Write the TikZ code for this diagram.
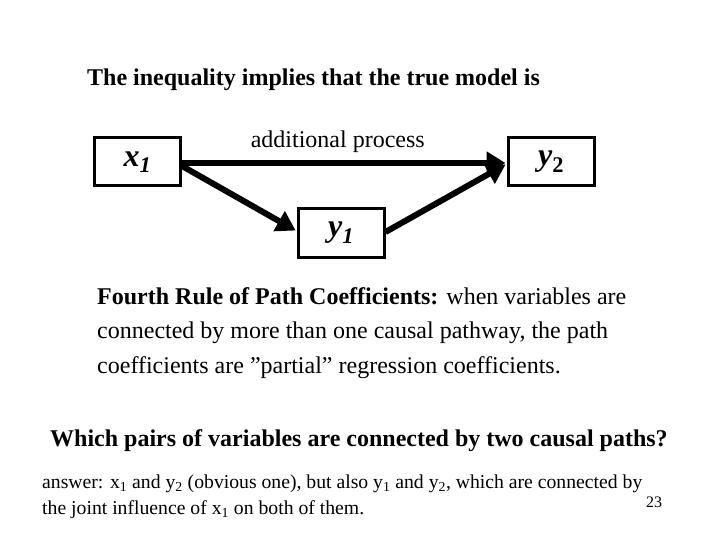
\documentclass[tikz,border=0pt]{standalone}
\usepackage{fontspec}
\setmainfont{Liberation Serif}
\usetikzlibrary{arrows.meta}
\tikzset{
  varbox/.style={draw, line width=3pt, minimum width=86pt, minimum height=48pt,
    font=\fontsize{32}{36}\selectfont\bfseries\itshape},
  causal/.style={line width=6pt, -{Triangle[length=19pt,width=22pt]}, shorten >=1pt},
  slidetext/.style={inner sep=0pt, anchor=base west}
}
\begin{document}
\begin{tikzpicture}[x=1pt,y=-1pt]
            \useasboundingbox (0,0) rectangle (720,540);
            \node[slidetext, font=\fontsize{24}{28}\selectfont\bfseries] (title) at (87,86)
              {The inequality implies that the true model is};

            \node[varbox] (x1) at (137.5,162) {x\textsubscript{1}};
            \node[varbox] (y2) at (551,162) {y\textsubscript{\upshape 2}};
            \node[varbox] (y1) at (341,233) {y\textsubscript{1}};

            \draw[causal] (x1.east |- 0,163) -- node[pos=0.48, above=7pt, inner sep=0pt, font=\fontsize{24}{28}\selectfont] (lbl) {additional process} (y2.west |- 0,163);
            \draw[causal] (x1.east |- 0,166) -- (y1.west |- 0,231);
            \draw[causal] (y1.east |- 0,232) -- (y2.west |- 0,164);

            % last baseline of each block
            \node[slidetext, align=left, font=\fontsize{24}{34.5}\selectfont] (rule) at (97,373)
              {\textbf{Fourth Rule of Path Coefficients:} when variables are\\
               connected by more than one causal pathway, the path\\
               coefficients are \symbol{34}partial\symbol{34} regression coefficients.};

            \node[slidetext, font=\fontsize{24}{28}\selectfont\bfseries] (question) at (50,446)
              {Which pairs of variables are connected by two causal paths?};

            \node[slidetext, align=left, font=\fontsize{19.7}{26}\selectfont] (answer) at (42,514)
              {answer: x\textsubscript{1} and y\textsubscript{2} (obvious one), but also y\textsubscript{1} and y\textsubscript{2}, which are connected by\\
               the joint influence of x\textsubscript{1} on both of them.};
            \node[slidetext, font=\fontsize{16}{18}\selectfont] (page) at (646,507) {23};
        \end{tikzpicture}
\end{document}
